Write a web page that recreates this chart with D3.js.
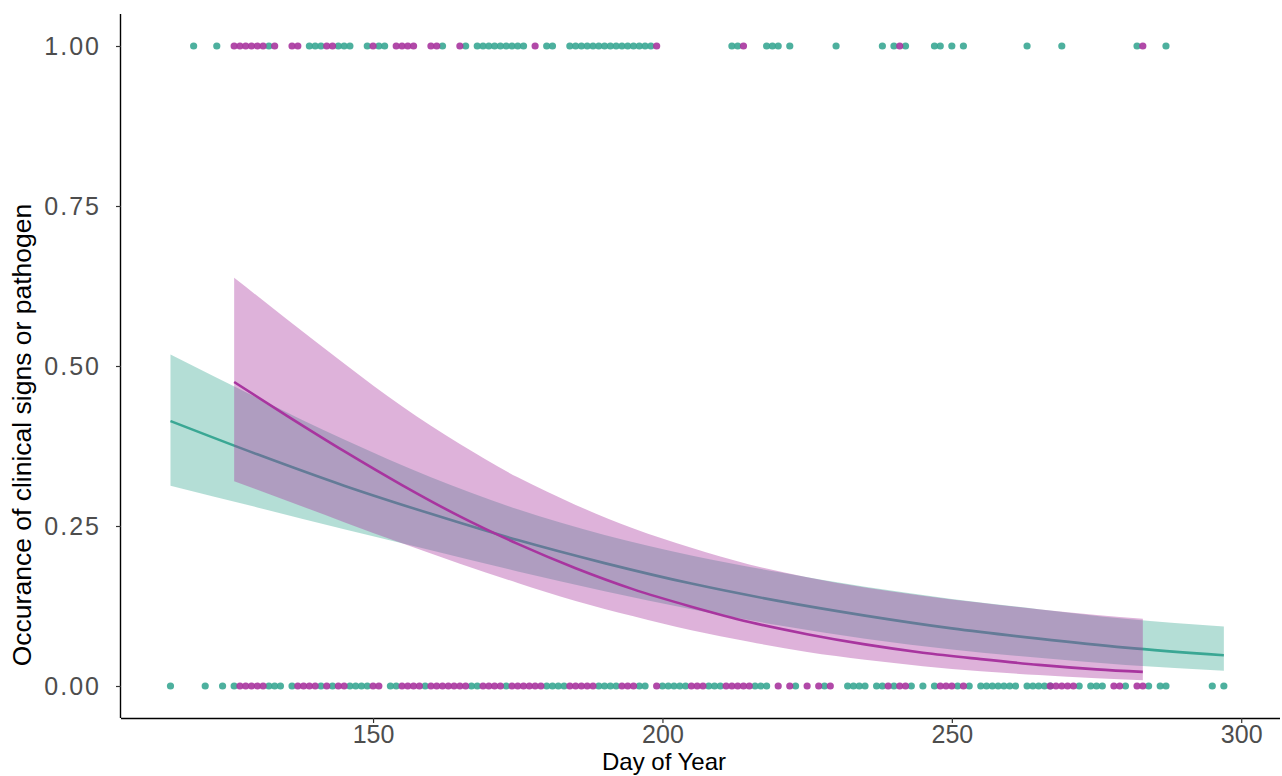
<!DOCTYPE html>
<html>
<head>
<meta charset="utf-8">
<script src="https://cdn.jsdelivr.net/npm/d3@7"></script>
<style>
    body { margin: 0; background: #fff; }
    text { font-family: "Liberation Sans", Arial, sans-serif; }
</style>
</head>
<body>
<svg id="chart" width="1282" height="776"></svg>
<script>
'use strict';

// observed days with outcome 1 (top row) and 0 (bottom row)
const topTeal = [119, 123, 132, 139, 140, 141, 144, 145, 146, 149, 151, 152, 162, 166, 168, 169, 170, 171, 172, 173, 174,
    175, 176, 180, 181, 184, 185, 186, 187, 188, 189, 190, 191, 192, 193, 194, 195, 196, 197, 198, 212, 213, 218, 219,
    220, 222, 230, 238, 240, 242, 247, 248, 250, 252, 263, 269, 282, 287];
const topMagenta = [126, 127, 128, 129, 130, 131, 133, 136, 137, 142, 143, 150, 154, 155, 156, 157, 160, 161, 165, 178,
    199, 214, 241, 283];
const bottomTeal = [115, 121, 124, 126, 132, 133, 134, 136, 141, 143, 146, 147, 148, 149, 153, 154, 159, 167, 168, 173,
    180, 181, 182, 183, 189, 190, 191, 192, 196, 197, 200, 201, 202, 203, 204, 208, 209, 210, 216, 217, 218, 223, 228,
    232, 233, 234, 235, 237, 238, 240, 243, 245, 247, 251, 253, 255, 256, 257, 258, 259, 260, 261, 263, 264, 265, 266,
    267, 272, 274, 275, 276, 280, 284, 286, 287, 295, 297];
const bottomMagenta = [127, 128, 129, 130, 131, 137, 138, 139, 140, 142, 144, 145, 150, 151, 155, 156, 157, 158, 160,
    161, 162, 163, 164, 165, 166, 169, 170, 171, 172, 174, 175, 176, 177, 178, 179, 184, 185, 186, 187, 188, 193, 194,
    195, 199, 205, 206, 207, 211, 212, 213, 214, 215, 220, 222, 225, 227, 229, 239, 241, 242, 248, 249, 250, 252, 267,
    268, 269, 270, 271, 278, 279, 282, 283];

// fitted curves with confidence band
const tealDays = [115, 130, 145, 160, 175, 190, 205, 220, 235, 250, 265, 280, 297];
const tealFit = [0.414, 0.362, 0.313, 0.269, 0.228, 0.192, 0.160, 0.133, 0.110, 0.090, 0.074, 0.060, 0.048];
const tealLo = [0.313, 0.279, 0.245, 0.212, 0.179, 0.148, 0.120, 0.095, 0.074, 0.057, 0.044, 0.033, 0.024];
const tealHi = [0.518, 0.450, 0.385, 0.326, 0.276, 0.236, 0.204, 0.178, 0.155, 0.136, 0.120, 0.105, 0.093];

const magentaDays = [126, 135, 145, 155, 165, 175, 185, 195, 205, 215, 225, 235, 245, 255, 265, 275, 283];
const magentaFit = [0.475, 0.423, 0.367, 0.314, 0.265, 0.222, 0.184, 0.151, 0.124, 0.100, 0.081, 0.065, 0.052, 0.042,
    0.033, 0.026, 0.022];
const magentaLo = [0.320, 0.290, 0.256, 0.223, 0.191, 0.161, 0.133, 0.109, 0.087, 0.069, 0.053, 0.041, 0.031, 0.023,
    0.017, 0.012, 0.009];
const magentaHi = [0.638, 0.574, 0.504, 0.437, 0.378, 0.326, 0.283, 0.246, 0.216, 0.190, 0.170, 0.154, 0.141, 0.130,
    0.120, 0.111, 0.105];

const xTicks = [150, 200, 250, 300];
const yTicks = [0, 0.25, 0.5, 0.75, 1];

function Chart(selector) {
    this.svg = d3.select(selector);
    this.left = 121;
    this.right = 1280;
    this.top = 14;
    this.bottom = 718;
    this.teal = '#3aa794';
    this.magenta = '#a8359f';
    this.x = d3.scaleLinear().domain([106.45, 306.7]).range([this.left, this.right]);
    this.y = d3.scaleLinear().domain([-0.05, 1.05]).range([this.bottom, this.top]);
    return this;
}

Chart.prototype.drawBand = function drawBand(days, fit, lo, hi, colour, opacity) {
    const self = this;
    const rows = days.map((d, i) => ({ day: d, fit: fit[i], lo: lo[i], hi: hi[i] }));

    const area = d3.area()
        .curve(d3.curveMonotoneX)
        .x((d) => self.x(d.day))
        .y0((d) => self.y(d.lo))
        .y1((d) => self.y(d.hi));

    const line = d3.line()
        .curve(d3.curveMonotoneX)
        .x((d) => self.x(d.day))
        .y((d) => self.y(d.fit));

    self.svg.append('path')
        .datum(rows)
        .attr('d', area)
        .attr('fill', colour)
        .attr('fill-opacity', opacity);

    self.svg.append('path')
        .datum(rows)
        .attr('d', line)
        .attr('fill', 'none')
        .attr('stroke', colour)
        .attr('stroke-width', 2.6);
};

Chart.prototype.drawPoints = function drawPoints(days, value, colour) {
    const self = this;
    self.svg.append('g')
        .selectAll('circle')
        .data(days)
        .enter().append('circle')
        .attr('cx', (d) => self.x(d))
        .attr('cy', self.y(value))
        .attr('r', 3.6)
        .attr('fill', colour)
        .attr('fill-opacity', 0.9);
};

Chart.prototype.drawAxes = function drawAxes() {
    const self = this;

    const xAxis = self.svg.append('g')
        .attr('transform', `translate(0,${self.bottom})`)
        .call(d3.axisBottom(self.x).tickValues(xTicks).tickSize(5).tickPadding(2).tickFormat(d3.format('d')));
    xAxis.select('.domain').attr('d', `M${self.left},0.5H${self.right}`).attr('stroke', '#000').attr('stroke-width', 1.4);
    xAxis.selectAll('.tick line').attr('stroke', '#333').attr('stroke-width', 1.2);
    xAxis.selectAll('.tick text')
        .attr('fill', '#4d4d4d')
        .style('font-size', '25px');

    const yAxis = self.svg.append('g')
        .attr('transform', `translate(${self.left},0)`)
        .call(d3.axisLeft(self.y).tickValues(yTicks).tickSize(5).tickPadding(15).tickFormat(d3.format('.2f')));
    yAxis.select('.domain').attr('d', `M-0.5,${self.top}V${self.bottom}`).attr('stroke', '#000').attr('stroke-width', 1.4);
    yAxis.selectAll('.tick line').attr('stroke', '#333').attr('stroke-width', 1.2);
    yAxis.selectAll('.tick text')
        .attr('fill', '#4d4d4d')
        .style('font-size', '25px')
        .style('letter-spacing', '2px');

    self.svg.append('text')
        .attr('x', 664)
        .attr('y', 770)
        .attr('text-anchor', 'middle')
        .style('font-size', '24px')
        .attr('fill', '#000')
        .text('Day of Year');

    self.svg.append('text')
        .attr('transform', 'translate(31,435) rotate(-90)')
        .attr('text-anchor', 'middle')
        .style('font-size', '26.5px')
        .attr('fill', '#000')
        .text('Occurance of clinical signs or pathogen');
};

const chart = new Chart('#chart');
chart.drawBand(tealDays, tealFit, tealLo, tealHi, chart.teal, 0.38);
chart.drawBand(magentaDays, magentaFit, magentaLo, magentaHi, chart.magenta, 0.38);
chart.drawPoints(topTeal, 1, chart.teal);
chart.drawPoints(bottomTeal, 0, chart.teal);
chart.drawPoints(topMagenta, 1, chart.magenta);
chart.drawPoints(bottomMagenta, 0, chart.magenta);
chart.drawAxes();
</script>
</body>
</html>
